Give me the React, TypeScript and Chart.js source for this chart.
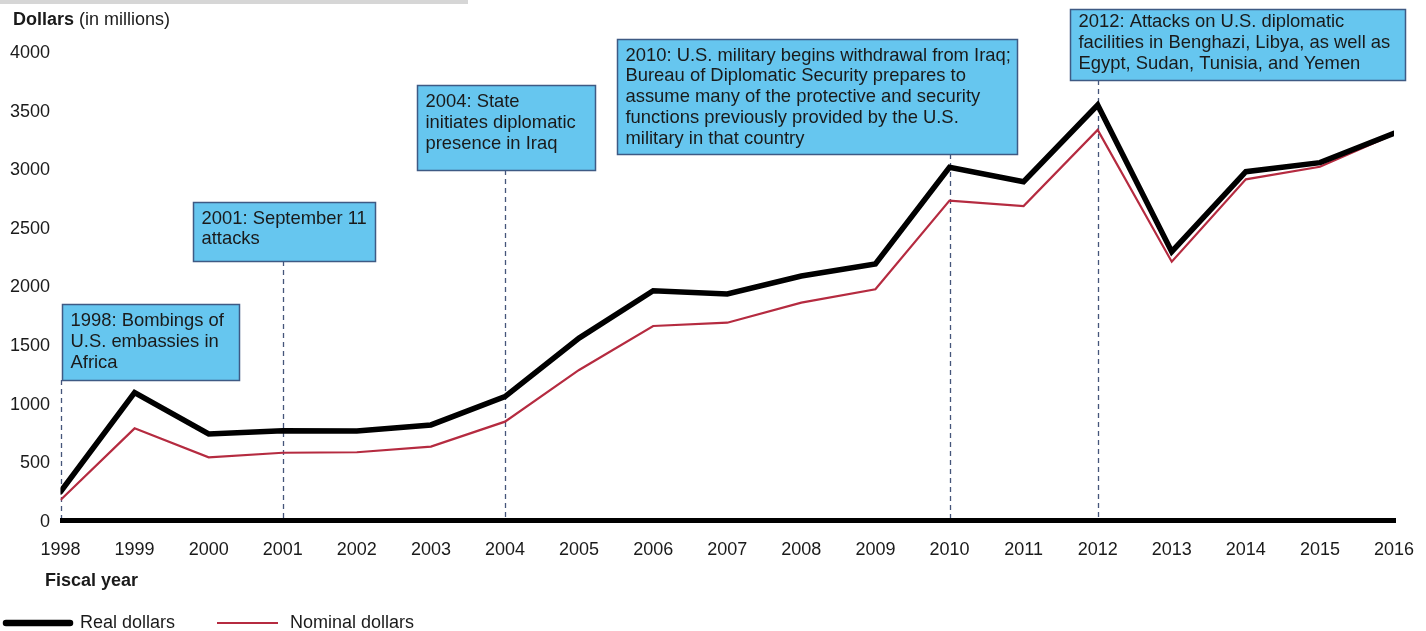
import React, { useEffect, useRef } from "react";
import { Chart, registerables } from "chart.js";

Chart.register(...registerables);

// ---------- DATA ----------
const years = [1998, 1999, 2000, 2001, 2002, 2003, 2004, 2005, 2006, 2007, 2008, 2009, 2010, 2011, 2012, 2013, 2014, 2015, 2016];
const realDollars = [245, 1090, 738, 766, 764, 815, 1056, 1556, 1960, 1932, 2085, 2188, 3012, 2890, 3544, 2293, 2975, 3052, 3302];
const nominalDollars = [175, 786, 539, 578, 582, 630, 843, 1284, 1659, 1687, 1858, 1972, 2728, 2682, 3331, 2207, 2910, 3017, 3294];
const yTickValues = [0, 500, 1000, 1500, 2000, 2500, 3000, 3500, 4000];
const seriesNames = ["Real dollars", "Nominal dollars"];
const yTitleBold = "Dollars";
const yTitleRest = " (in millions)";
const xTitle = "Fiscal year";

const eventYears = [1998, 2001, 2004, 2010, 2012];
const eventTexts = [
  ["1998: Bombings of", "U.S. embassies in", "Africa"],
  ["2001: September 11", "attacks"],
  ["2004: State", "initiates diplomatic", "presence in Iraq"],
  [
    "2010: U.S. military begins withdrawal from Iraq;",
    "Bureau of Diplomatic Security prepares to",
    "assume many of the protective and security",
    "functions previously provided by the U.S.",
    "military in that country",
  ],
  ["2012: Attacks on U.S. diplomatic", "facilities in Benghazi, Libya, as well as", "Egypt, Sudan, Tunisia, and Yemen"],
];

// ---------- LAYOUT / STYLE ----------
const FONT = '"Liberation Sans", Arial, Helvetica, sans-serif';
const REAL_COLOR = "#000000";
const NOMINAL_COLOR = "#b52b40";
const BOX_FILL = "#66c6ef";
const BOX_STROKE = "#3e5a84";
const DASH_COLOR = "#45557a";
const TEXT_COLOR = "#1a1a1a";

// box geometry: dx relative to event-year pixel, width, top, height, first-line offset
const boxLayout = [
  { dx: 1, w: 177, top: 304, h: 76, first: 17 },
  { dx: -90, w: 182, top: 202, h: 59, first: 16.5 },
  { dx: -88, w: 178, top: 85, h: 85, first: 17 },
  { dx: -333, w: 400, top: 39, h: 115, first: 16.5 },
  { dx: -28, w: 335, top: 9, h: 71, first: 13 },
];
const LINE_H = 20.8;

const overlayPlugin = {
  id: "overlay",
  beforeDatasetsDraw(chart: any) {
    const { ctx, scales } = chart;
    const xs = scales.x;
    const ys = scales.y;
    const y0 = ys.getPixelForValue(0);
    ctx.save();
    ctx.setLineDash([5, 4]);
    ctx.strokeStyle = DASH_COLOR;
    ctx.lineWidth = 1.3;
    eventYears.forEach((yr, i) => {
      const b = boxLayout[i];
      const px = Math.round(xs.getPixelForValue(yr)) + 0.5;
      ctx.beginPath();
      ctx.moveTo(px, b.top + b.h);
      ctx.lineTo(px, y0);
      ctx.stroke();
    });
    ctx.restore();

    // thick baseline axis
    ctx.save();
    ctx.strokeStyle = "#000";
    ctx.lineWidth = 5;
    ctx.lineCap = "butt";
    ctx.beginPath();
    ctx.moveTo(xs.left - 0.5, y0);
    ctx.lineTo(xs.right + 2, y0);
    ctx.stroke();
    ctx.restore();
  },
  afterDraw(chart: any) {
    const { ctx, scales } = chart;
    const xs = scales.x;

    // top grey bar
    ctx.save();
    ctx.fillStyle = "#d6d6d6";
    ctx.fillRect(0, 0, 468, 4);
    ctx.restore();

    // annotation boxes
    ctx.save();
    ctx.font = `18.4px ${FONT}`;
    ctx.textBaseline = "middle";
    ctx.textAlign = "left";
    eventYears.forEach((yr, i) => {
      const b = boxLayout[i];
      const left = Math.round(xs.getPixelForValue(yr) + b.dx) + 0.5;
      ctx.fillStyle = BOX_FILL;
      ctx.fillRect(left, b.top + 0.5, b.w, b.h);
      ctx.strokeStyle = BOX_STROKE;
      ctx.lineWidth = 1.5;
      ctx.strokeRect(left, b.top + 0.5, b.w, b.h);
      ctx.fillStyle = TEXT_COLOR;
      eventTexts[i].forEach((line, j) => {
        ctx.fillText(line, left + 8, b.top + b.first + j * LINE_H);
      });
    });
    ctx.restore();

    // y-axis title
    ctx.save();
    ctx.fillStyle = TEXT_COLOR;
    ctx.textBaseline = "alphabetic";
    ctx.textAlign = "left";
    ctx.font = `bold 18px ${FONT}`;
    ctx.fillText(yTitleBold, 13, 25);
    const bw = ctx.measureText(yTitleBold).width;
    ctx.font = `18px ${FONT}`;
    ctx.fillText(yTitleRest, 13 + bw, 25);

    // x-axis title
    ctx.font = `bold 18px ${FONT}`;
    ctx.textBaseline = "middle";
    ctx.fillText(xTitle, 45, 581);

    // legend
    const ds = chart.data.datasets;
    const legendY = 623;
    const items = [
      { x0: 6, x1: 70, tx: 80 },
      { x0: 217, x1: 278, tx: 290 },
    ];
    items.forEach((it, i) => {
      ctx.strokeStyle = ds[i].borderColor;
      ctx.lineWidth = i === 0 ? 6.5 : 2.2;
      ctx.lineCap = i === 0 ? "round" : "butt";
      ctx.beginPath();
      ctx.moveTo(it.x0, legendY);
      ctx.lineTo(it.x1, legendY);
      ctx.stroke();
      ctx.fillStyle = TEXT_COLOR;
      ctx.font = `18px ${FONT}`;
      ctx.fillText(seriesNames[i], it.tx, legendY);
    });
    ctx.restore();
  },
};

export default function App() {
  const canvasRef = useRef<HTMLCanvasElement | null>(null);

  useEffect(() => {
    const canvas = canvasRef.current;
    if (!canvas) return;
    const chart = new Chart(canvas, {
      type: "line",
      data: {
        datasets: [
          {
            label: seriesNames[0],
            data: years.map((yr, i) => ({ x: yr, y: realDollars[i] })),
            borderColor: REAL_COLOR,
            borderWidth: 5.5,
            pointRadius: 0,
            tension: 0,
            borderCapStyle: "round",
            borderJoinStyle: "miter",
            fill: false,
            order: 0,
          },
          {
            label: seriesNames[1],
            data: years.map((yr, i) => ({ x: yr, y: nominalDollars[i] })),
            borderColor: NOMINAL_COLOR,
            borderWidth: 2.2,
            pointRadius: 0,
            tension: 0,
            borderJoinStyle: "miter",
            fill: false,
            order: 1,
          },
        ],
      },
      options: {
        responsive: false,
        animation: false,
        devicePixelRatio: 1,
        layout: { padding: { top: 51.5, right: 32, left: 0, bottom: 0 } },
        plugins: {
          legend: { display: false },
          title: { display: false },
          tooltip: { enabled: false },
        },
        events: [],
        scales: {
          x: {
            type: "linear",
            min: years[0],
            max: years[years.length - 1],
            grid: { display: false, drawTicks: false },
            border: { display: false },
            afterBuildTicks: (s: any) => {
              s.ticks = years.map((v) => ({ value: v }));
            },
            afterFit: (s: any) => {
              s.height = 110.5;
              s.paddingLeft = 0;
              s.paddingRight = 0;
            },
            ticks: {
              autoSkip: false,
              maxRotation: 0,
              padding: 19,
              color: TEXT_COLOR,
              font: { family: FONT, size: 18 },
              callback: (v: any) => String(v),
            },
          },
          y: {
            type: "linear",
            min: 0,
            max: 4000,
            grid: { display: false, drawTicks: false },
            border: { display: false },
            afterBuildTicks: (s: any) => {
              s.ticks = yTickValues.map((v) => ({ value: v }));
            },
            afterFit: (s: any) => {
              s.width = 60.5;
              s.paddingTop = 0;
              s.paddingBottom = 0;
            },
            ticks: {
              padding: 10.5,
              labelOffset: 1.5,
              color: TEXT_COLOR,
              font: { family: FONT, size: 18 },
              callback: (v: any) => String(v),
            },
          },
        },
      },
      plugins: [overlayPlugin],
    } as any);
    return () => chart.destroy();
  }, []);

  return (
    <div style={{ position: "absolute", left: 0, top: 0, width: 1426, height: 631, background: "#fff" }}>
      <canvas ref={canvasRef} width={1426} height={631} style={{ display: "block" }} />
    </div>
  );
}
